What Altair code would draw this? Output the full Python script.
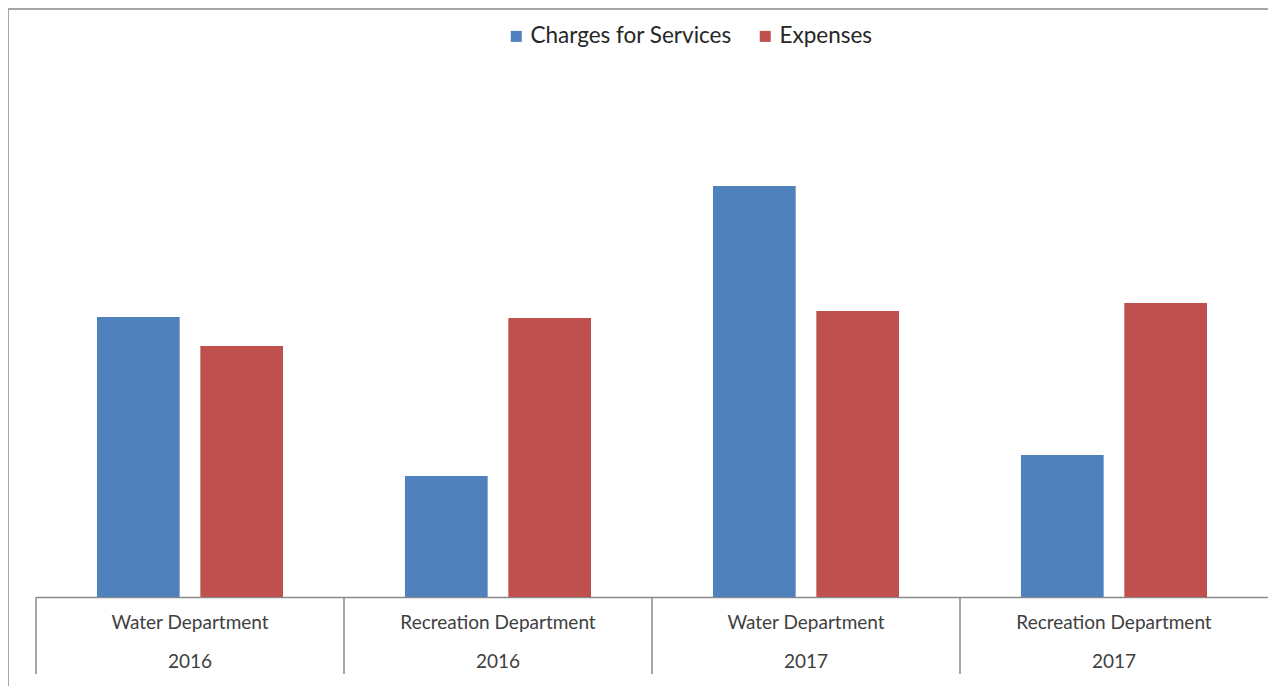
import altair as alt
import pandas as pd

departments = ["Water Department", "Recreation Department", "Water Department", "Recreation Department"]
years = ["2016", "2016", "2017", "2017"]
series = ["Charges for Services", "Expenses"]
charges = [280, 121, 411, 142]
expenses = [251, 279, 286, 294]
colors = ["#4F81BD", "#C0504D"]

groups = [f"{d}|{y}" for d, y in zip(departments, years)]
rows = []
for g, c, e in zip(groups, charges, expenses):
    rows.append({"group": g, "series": series[0], "value": c})
    rows.append({"group": g, "series": series[1], "value": e})
df = pd.DataFrame(rows)
div = pd.DataFrame({"group": groups})
one = pd.DataFrame({"a": [0]})

W, H = 1232, 537
GRAY = "#8a8a8a"

x_scale = alt.Scale(domain=groups, paddingInner=0, paddingOuter=0)

bars = alt.Chart(df).mark_bar().encode(
    x=alt.X("group:N", scale=x_scale, sort=groups,
            axis=alt.Axis(title=None, labelExpr="split(datum.label, '|')", ticks=False,
                          domainColor=GRAY, domainWidth=1.5, labelAngle=0, labelFont="Lato",
                          labelFontSize=19, labelColor="#404040", labelPadding=16,
                          labelLineHeight=39, labelBaseline="top", labelLimit=0)),
    xOffset=alt.XOffset("series:N", sort=series,
                        scale=alt.Scale(paddingInner=0.2, paddingOuter=0.59)),
    y=alt.Y("value:Q", scale=alt.Scale(domain=[0, 537]), axis=None),
    color=alt.Color("series:N", sort=series,
                    scale=alt.Scale(domain=series, range=colors),
                    legend=alt.Legend(orient="none", legendX=469, legendY=-35,
                                      direction="horizontal", title=None,
                                      symbolType="square", symbolSize=121,
                                      symbolStrokeWidth=0, labelFontSize=22.5,
                                      labelFont="Lato", labelColor="#262626",
                                      labelLimit=0,
                                      columnPadding=22, labelOffset=3)),
)

dividers = alt.Chart(div).mark_rule(color=GRAY, strokeWidth=1.5).encode(
    x=alt.X("group:N", sort=groups, bandPosition=0),
    y=alt.value(H),
    y2=alt.value(H + 77),
)

border_left = alt.Chart(one).mark_rule(color="#a6a6a6", strokeWidth=2).encode(
    x=alt.value(-28), y=alt.value(-51), y2=alt.value(H + 89)
)
border_top = alt.Chart(one).mark_rule(color="#a6a6a6", strokeWidth=2).encode(
    x=alt.value(-29), x2=alt.value(W + 5), y=alt.value(-51)
)

chart = alt.layer(bars, dividers, border_left, border_top).properties(
    width=W, height=H,
    padding={"left": 28, "top": 52, "right": 0, "bottom": 89},
    autosize=alt.AutoSizeParams(type="none"),
).configure_view(stroke=None)

chart.save("out.html", embed_options={"renderer": "svg", "actions": False})
